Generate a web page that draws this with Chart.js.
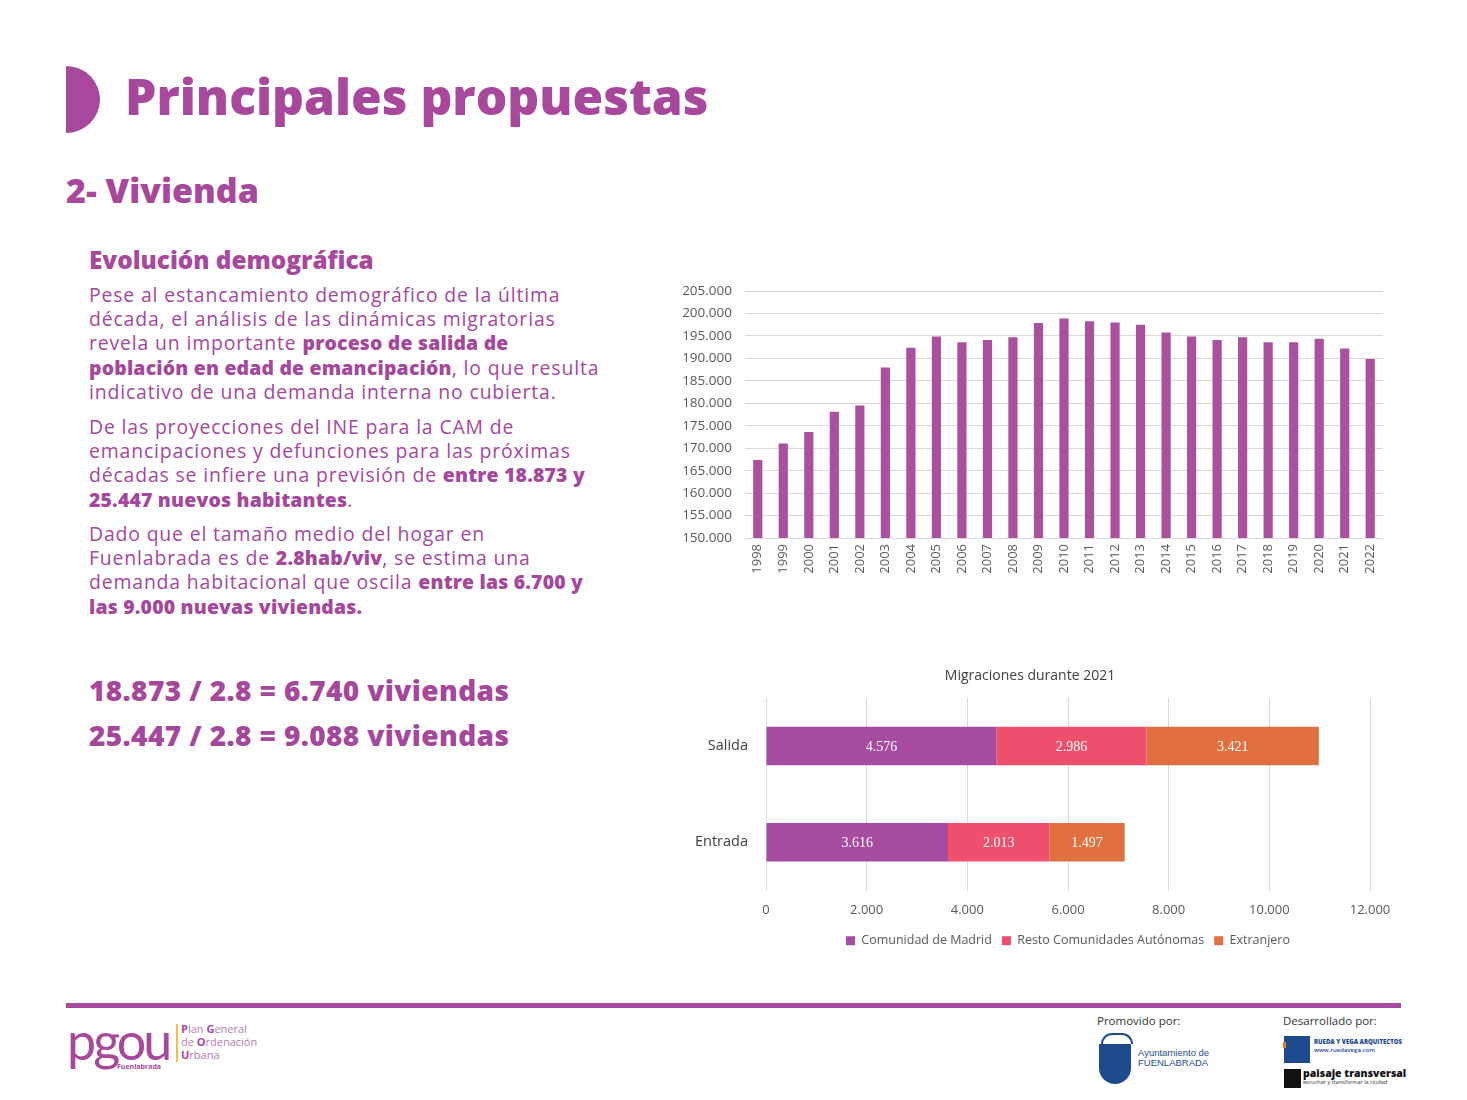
<!DOCTYPE html>
<html lang="es">
<head>
<meta charset="utf-8">
<title>Principales propuestas - Vivienda</title>
<script src="https://cdn.jsdelivr.net/npm/chart.js@4.4.1/dist/chart.umd.min.js"></script>
<style>
  html, body { margin: 0; padding: 0; background: #ffffff; }
  #page { position: relative; width: 1467px; height: 1100px; overflow: hidden; background: #fff; font-family: "Open Sans", "Noto Sans", sans-serif; color: #A5479B; }
  .abs { position: absolute; white-space: nowrap; }
  #halfdisc { left: 66px; top: 66px; width: 34px; height: 67px; background: #A8489C; border-radius: 0 100% 100% 0 / 0 50% 50% 0; }
  #title { left: 125px; top: 64px; font-family: "Open Sans", sans-serif; font-weight: 800; font-size: 49.7px; line-height: 64px; color: #A8489C; letter-spacing: 0px; }
  #subtitle { left: 66px; top: 168px; font-family: "Open Sans", sans-serif; font-weight: 800; font-size: 34px; line-height: 44px; color: #A8489C; }
  #sectitle { left: 89px; top: 243px; font-family: "Open Sans", sans-serif; font-weight: 800; font-size: 24.3px; line-height: 34px; color: #A8489C; }
  .para { left: 89px; font-size: 19.4px; line-height: 24.2px; font-weight: 400; color: #A5479B; letter-spacing: 0.85px; }
  .para b { font-weight: 800; letter-spacing: 0.2px; }
  #p1 { top: 283px; }
  #p2 { top: 415px; }
  #p3 { top: 522px; }
  .calc { left: 89px; font-weight: 800; font-size: 28px; line-height: 36px; color: #A5479B; letter-spacing: 0.4px; }
  #c1 { top: 672px; }
  #c2 { top: 717px; }
  #chart1wrap { left: 670px; top: 270px; width: 725px; height: 320px; }
  #chart2wrap { left: 650px; top: 660px; width: 760px; height: 300px; }
  #footline { left: 66px; top: 1003px; width: 1335px; height: 5px; background: #A94A9E; }
  /* footer logos (approximations) */
  #pgou { left: 67px; top: 1012px; font-family: "Lato", sans-serif; font-weight: 400; font-size: 52px; line-height: 56px; color: #A8489C; letter-spacing: -3px; }
  #pgouF { left: 117px; top: 1062px; font-size: 7px; font-weight: 700; color: #A8489C; }
  #pgouBar { left: 176px; top: 1024px; width: 2px; height: 38px; background: #F5C04A; }
  #pgouTxt { left: 181px; top: 1022px; font-size: 11px; line-height: 13px; color: #B77AB0; }
  #pgouTxt span { color: #A8489C; font-weight: 700; }
  #promo { left: 1097px; top: 1013px; font-size: 11.5px; color: #333; }
  #desa { left: 1283px; top: 1013px; font-size: 11.5px; color: #333; }
  #shield { left: 1099px; top: 1044px; width: 32px; height: 40px; background: #1E4B8E; border-radius: 0 0 16px 16px; }
  #crown { left: 1101px; top: 1033px; width: 28px; height: 9px; border: 2px solid #1E4B8E; border-bottom: none; border-radius: 14px 14px 0 0; }
  #ayto { left: 1138px; top: 1048px; font-family: "Liberation Sans", sans-serif; font-size: 9.5px; line-height: 10px; color: #1E4B8E; }
  #rvbox { left: 1284px; top: 1036px; width: 26px; height: 27px; background: #1E4B8E; }
  #rvdot { left: 1283px; top: 1042px; width: 3px; height: 6px; background: #E87A2A; }
  #rvtxt { left: 1314px; top: 1038px; font-size: 6px; line-height: 8px; font-weight: 800; color: #1E4B8E; }
  #ptbox { left: 1284px; top: 1069px; width: 17px; height: 19px; background: #111; }
  #pttxt { left: 1303px; top: 1067px; font-size: 10.5px; line-height: 12px; font-weight: 800; color: #111; }
  #pttxt small { display: block; font-size: 5.5px; line-height: 6px; font-weight: 400; color: #333; }
</style>
</head>
<body>
<div id="page">
  <div id="halfdisc" class="abs"></div>
  <div id="title" class="abs">Principales propuestas</div>
  <div id="subtitle" class="abs">2- Vivienda</div>
  <div id="sectitle" class="abs">Evolución demográfica</div>

  <div id="p1" class="abs para">Pese al estancamiento demográfico de la última<br>década, el análisis de las dinámicas migratorias<br>revela un importante <b>proceso de salida de</b><br><b>población en edad de emancipación</b>, lo que resulta<br>indicativo de una demanda interna no cubierta.</div>
  <div id="p2" class="abs para">De las proyecciones del INE para la CAM de<br>emancipaciones y defunciones para las próximas<br>décadas se infiere una previsión de <b>entre 18.873 y</b><br><b>25.447 nuevos habitantes</b>.</div>
  <div id="p3" class="abs para">Dado que el tamaño medio del hogar en<br>Fuenlabrada es de <b>2.8hab/viv</b>, se estima una<br>demanda habitacional que oscila <b>entre las 6.700 y</b><br><b>las 9.000 nuevas viviendas.</b></div>

  <div id="c1" class="abs calc">18.873 / 2.8 = 6.740 viviendas</div>
  <div id="c2" class="abs calc">25.447 / 2.8 = 9.088 viviendas</div>

  <div id="chart1wrap" class="abs"><canvas id="chart1"></canvas></div>
  <div id="chart2wrap" class="abs"><canvas id="chart2"></canvas></div>

  <div id="footline" class="abs"></div>
  <div id="pgou" class="abs">pgou</div>
  <div id="pgouF" class="abs">Fuenlabrada</div>
  <div id="pgouBar" class="abs"></div>
  <div id="pgouTxt" class="abs"><span>P</span>lan <span>G</span>eneral<br>de <span>O</span>rdenación<br><span>U</span>rbana</div>
  <div id="promo" class="abs">Promovido por:</div>
  <div id="crown" class="abs"></div>
  <div id="shield" class="abs"></div>
  <div id="ayto" class="abs">Ayuntamiento de<br>FUENLABRADA</div>
  <div id="desa" class="abs">Desarrollado por:</div>
  <div id="rvbox" class="abs"></div>
  <div id="rvdot" class="abs"></div>
  <div id="rvtxt" class="abs">RUEDA Y VEGA ARQUITECTOS<br><span style="font-weight:600">www.ruedavega.com</span></div>
  <div id="ptbox" class="abs"></div>
  <div id="pttxt" class="abs">paisaje transversal<small>escuchar y transformar la ciudad</small></div>
</div>

<script>
// ---------- DATA ----------
const years = ['1998','1999','2000','2001','2002','2003','2004','2005','2006','2007','2008','2009','2010','2011','2012','2013','2014','2015','2016','2017','2018','2019','2020','2021','2022'];
const population = [167400, 171050, 173600, 178100, 179500, 188000, 192400, 194900, 193600, 194100, 194700, 197900, 198900, 198300, 198000, 197500, 195800, 194900, 194100, 194700, 193600, 193600, 194400, 192200, 189900];
const popAxisMin = 150000;
const popAxisMax = 205000;
const popAxisStep = 5000;

const migrationTitle = 'Migraciones durante 2021';
const flows = ['Salida', 'Entrada'];
const seriesNames = ['Comunidad de Madrid', 'Resto Comunidades Autónomas', 'Extranjero'];
const madrid = [4576, 3616];
const resto = [2986, 2013];
const extranjero = [3421, 1497];
const flowAxisMax = 12000;
const flowAxisStep = 2000;

// ---------- HELPERS ----------
function fmt(v) { return String(Math.round(v)).replace(/\B(?=(\d{3})+(?!\d))/g, '.'); }

const tickColor = '#595959';
const gridColor = '#d9d9d9';
const chartFont = '"Open Sans", "Noto Sans", sans-serif';

// ---------- CHART 1: population ----------
new Chart(document.getElementById('chart1'), {
  type: 'bar',
  data: {
    labels: years,
    datasets: [{
      label: 'Población',
      data: population,
      backgroundColor: '#A9509F',
      borderWidth: 0,
      barPercentage: 0.36,
      categoryPercentage: 1.0
    }]
  },
  options: {
    responsive: true,
    maintainAspectRatio: false,
    animation: false,
    layout: { padding: { top: 1, right: 12, bottom: 0, left: 0 } },
    plugins: { legend: { display: false }, tooltip: { enabled: false } },
    scales: {
      x: {
        grid: { display: false, drawTicks: false },
        border: { display: false },
        ticks: { color: tickColor, font: { family: chartFont, size: 13 }, minRotation: 90, maxRotation: 90, padding: 6, autoSkip: false },
        afterFit: (s) => { s.height = 52; }
      },
      y: {
        min: popAxisMin,
        max: popAxisMax,
        grid: { color: gridColor, drawTicks: false, lineWidth: 1 },
        border: { display: false },
        ticks: { stepSize: popAxisStep, color: tickColor, font: { family: chartFont, size: 13.5 }, padding: 13, callback: (v) => fmt(v) },
        afterFit: (s) => { s.width = 75; }
      }
    }
  }
});

// ---------- CHART 2: migrations ----------
const barLabelPlugin = {
  id: 'barLabels',
  afterDatasetsDraw(chart) {
    const ctx = chart.ctx;
    ctx.save();
    ctx.fillStyle = '#ffffff';
    ctx.font = '14px "Liberation Serif", "DejaVu Serif", serif';
    ctx.textAlign = 'center';
    ctx.textBaseline = 'middle';
    chart.data.datasets.forEach((ds, di) => {
      const meta = chart.getDatasetMeta(di);
      meta.data.forEach((el, i) => {
        const cx = (el.x + el.base) / 2;
        ctx.fillText(fmt(ds.data[i]), cx, el.y + 1);
      });
    });
    ctx.restore();
  }
};

new Chart(document.getElementById('chart2'), {
  type: 'bar',
  data: {
    labels: flows,
    datasets: [
      { label: seriesNames[0], data: madrid, backgroundColor: '#A54CA0', borderWidth: 0, barPercentage: 0.4, categoryPercentage: 1.0 },
      { label: seriesNames[1], data: resto, backgroundColor: '#EF506E', borderWidth: 0, barPercentage: 0.4, categoryPercentage: 1.0 },
      { label: seriesNames[2], data: extranjero, backgroundColor: '#E0703F', borderWidth: 0, barPercentage: 0.4, categoryPercentage: 1.0 }
    ]
  },
  plugins: [barLabelPlugin],
  options: {
    indexAxis: 'y',
    responsive: true,
    maintainAspectRatio: false,
    animation: false,
    layout: { padding: { top: 0, right: 40, bottom: 3, left: 40 } },
    plugins: {
      tooltip: { enabled: false },
      title: {
        display: true,
        text: migrationTitle,
        color: '#404040',
        font: { family: chartFont, size: 14, weight: 'normal' },
        padding: { top: 8, bottom: 13 }
      },
      legend: {
        position: 'bottom',
        fullSize: false,
        labels: { boxWidth: 9, boxHeight: 9, padding: 10, color: tickColor, font: { family: chartFont, size: 12.5 } }
      }
    },
    scales: {
      x: {
        stacked: true,
        min: 0,
        max: flowAxisMax,
        grid: { color: gridColor, drawTicks: false },
        border: { display: false },
        ticks: { stepSize: flowAxisStep, color: tickColor, font: { family: chartFont, size: 13 }, padding: 12, callback: (v) => fmt(v) },
        afterFit: (s) => { s.height = 34; }
      },
      y: {
        stacked: true,
        grid: { display: false, drawTicks: false },
        border: { display: false },
        ticks: { color: '#404040', font: { family: chartFont, size: 14.5 }, padding: 18 },
        afterFit: (s) => { s.width = 76; }
      }
    }
  }
});
</script>
</body>
</html>
